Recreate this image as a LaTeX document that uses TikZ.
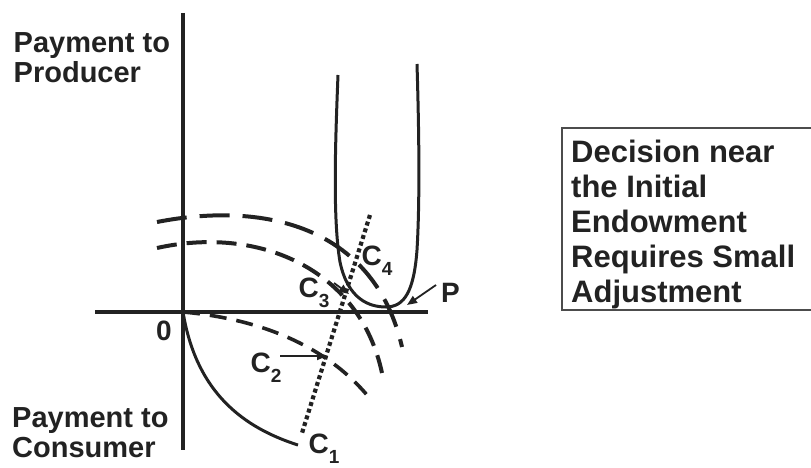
\documentclass[tikz,border=0pt]{standalone}
\usepackage{fontspec}
\setmainfont{Liberation Sans}
\usetikzlibrary{arrows.meta}
\definecolor{ink}{HTML}{222222}
\newcommand{\csub}[1]{\raisebox{-10pt}{\fontsize{19}{19}\selectfont #1}}

\begin{document}
\begin{tikzpicture}[
  x=1pt, y=-1pt,
  axis/.style={ink, line width=3.2pt},
  curve/.style={ink, line width=3pt},
  longdash/.style={ink, line width=4pt, dash pattern=on 30pt off 13pt},
  middash/.style={ink, line width=4pt, dash pattern=on 20pt off 10pt},
  shortdash/.style={ink, line width=3.6pt, dash pattern=on 17pt off 10pt},
  dots/.style={ink, line width=4.2pt, dash pattern=on 4pt off 3pt},
  ptr/.style={ink, line width=1.8pt, -{Triangle[length=10pt, width=8pt]}},
  lbl/.style={font=\fontsize{29}{30}\selectfont\bfseries, text=ink, align=left, inner sep=0pt, anchor=base west},
  clbl/.style={font=\fontsize{28}{28}\selectfont\bfseries, text=ink, inner sep=0pt, anchor=base west},
  note/.style={font=\fontsize{31}{35}\selectfont\bfseries, text=ink, align=left, inner sep=0pt, anchor=base west},
]
\useasboundingbox (0,0) rectangle (811,468);

% Axes
\draw[axis] (183,13) -- (183,450);
\draw[axis] (95,312) -- (428,312);

% Curves
\draw[curve] (183,312) .. controls (195,385) and (235,425) .. (298,445);
\draw[shortdash] (183,312) .. controls (250,318) and (320,340) .. (367,395);
\draw[middash] (157,248) .. controls (260,225) and (360,270) .. (382,373);
\draw[longdash] (157,222) .. controls (270,200) and (375,230) .. (402,347);
\draw[dots] (370,215) -- (302,433);
\draw[curve] (338,75) .. controls (335,150) and (333,220) .. (340,262)
  .. controls (348,300) and (370,307) .. (386,307)
  .. controls (405,307) and (414,290) .. (417,250)
  .. controls (420,200) and (419,130) .. (417,64);

% Labels (base = last line)
\node[lbl] (prod) at (13.5,83) {Payment to\\Producer};
\node[lbl] (cons) at (12,457) {Payment to\\Consumer};
\node[clbl] (zero) at (156,340) {0};
\node[clbl] (c1) at (308.5,453) {C\csub{1}};
\node[clbl] (c2) at (250.5,372) {C\csub{2}};
\node[clbl] (c3) at (298.5,297) {C\csub{3}};
\node[clbl] (c4) at (361.5,265) {C\csub{4}};
\node[clbl] (plbl) at (441,302) {P};

% Pointers
\coordinate (c2tail) at (280,356);
\coordinate (c2tip) at (327,356);
\coordinate (c3tail) at (334,283);
\coordinate (c3tip) at (349,294);
\coordinate (ptail) at (436,285);
\coordinate (ptip) at (407,305);
\draw[ptr] (c2tail) -- (c2tip);
\draw[ptr] (c3tail) -- (c3tip);
\draw[ptr] (ptail) -- (ptip);

% Note box
\draw[gray!60!black, line width=1.3pt] (562,128) rectangle (815,310);
\node[note] (note) at (571,302) {Decision near\\the Initial\\Endowment\\Requires Small\\Adjustment};

\end{tikzpicture}
\end{document}
